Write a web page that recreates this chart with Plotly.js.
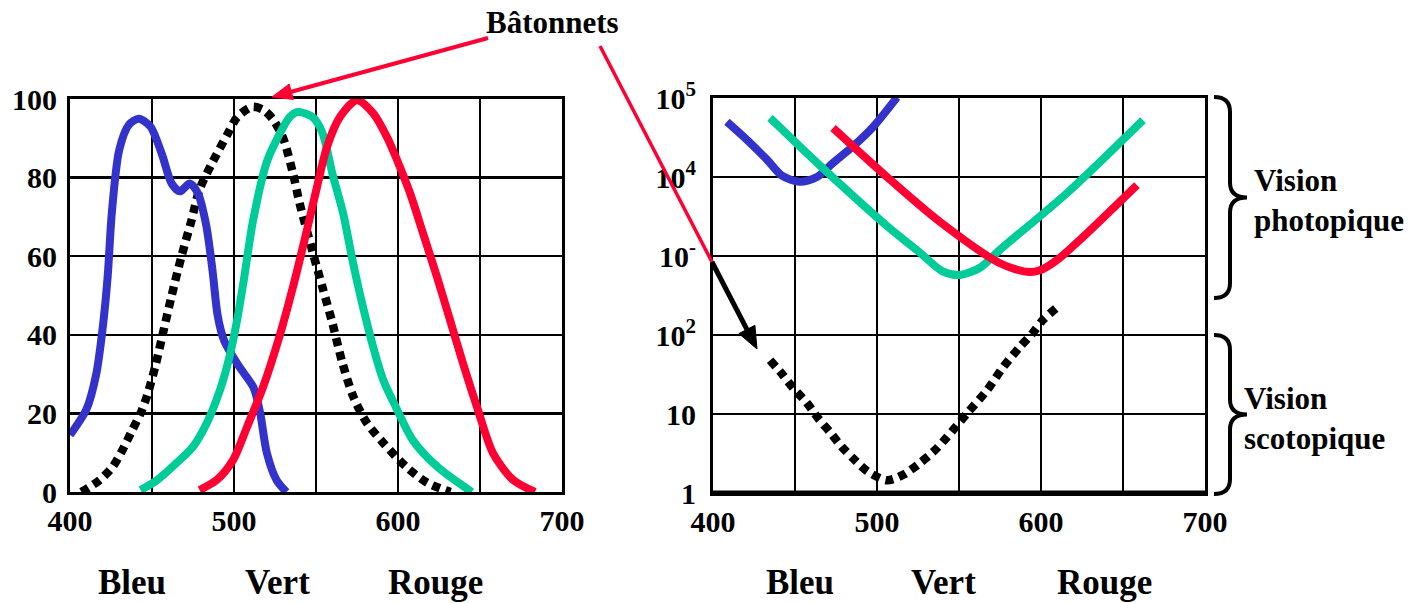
<!DOCTYPE html>
<html><head><meta charset="utf-8">
<script src="https://cdn.plot.ly/plotly-3.0.1.min.js"></script>
<style>html,body{margin:0;padding:0;background:#fff}</style>
</head><body><div id="chart" style="width:1420px;height:603px"></div>
<script>
// ---------- DATA ----------
// Left panel: relative sensitivity (%) vs wavelength (nm)
const blueLeftX = [400,410,416,420,423,425.5,430,436,442,449,456,462,467,473,478,483,487,490,494,503,512,516,520,526,532];
const blueLeftY = [14.5,21,30,42,55,71,87,93.5,95,93,86,78.5,76.5,78.5,76,68,56,45,38.5,32,26.5,20,10,3,0];

const rodLeftX = [407,418,426,432,438,443,447,452,457,462,468,474,479,487,496,502,511,518,524,530,536,540,548,554,560,566,573,581,591,605,618,632];
const rodLeftY = [0,3,6.4,10.7,15.8,20,24.5,32,41,50,60,69,77,84,91,95.4,98,97.2,94.7,90,81,73.5,61,52,43,33,24,17.6,12.5,6.4,2.3,0];

const greenLeftX = [443,453,465,475,483.5,491.5,497.6,502,506,511.6,520,526,534,539,548,554,560,566.5,572.6,578.7,584.8,591,599.4,609,624,645];
const greenLeftY = [0.5,3,7.4,11.5,17.6,26,35,44,54,69,84,89.6,95.4,96.7,95.4,91.3,81,71,58.3,47,37,28.5,21,13.2,6.4,0];

const redLeftX = [479,489.6,499.4,507.9,517.7,528,536,544.5,550.6,556.7,564.6,575,584.8,593.3,599.4,607.3,615.2,623.8,631.7,639.6,648.2,657.9,670.1,683.5];
const redLeftY = [0.5,3.1,8.1,16.5,26.7,40,52.2,66.7,77.6,87.8,95.4,99.7,96.4,90.3,84.5,76.1,65.9,54.7,43.8,32.8,21.6,9.9,3.1,0];

// Right panel: threshold (log scale) vs wavelength (nm)
const blueRightX = [408.5,420.7,432.9,442,453,463.4,473.2,485.4,497.6,512.2];
const blueRightY = [50000,29500,16600,10400,8700,10000,15100,24500,43000,102000];

const greenRightX = [434.8,465.2,506.1,526.2,540,550.6,562.8,575,616,662.2];
const greenRightY = [56000,14000,2400,1100,640,575,710,1200,6300,52500];

const redRightX = [473.2,506.1,538.4,575,591.5,599.4,609.8,625.6,658.5];
const redRightY = [41700,10000,2700,810,630,660,890,1740,7900];

const rodRightX = [434.8,442.7,448.8,457.3,464,471.3,478.7,486.6,494.5,506.1,515.9,526.2,535.4,542.7,554.9,567.1,576.8,587.2,595.1,601.2,609.8];
const rodRightY = [48,31,21.4,13.8,8.9,5.9,3.8,2.6,1.86,1.45,1.7,2.4,3.5,5.1,10.2,20,39,71,107,155,224];

// Tick labels
const xTickVals = [400,500,600,700];
const xTickText = ['400','500','600','700'];
const xMinorVals = [450,550,650];
const yLeftTickVals = [0,20,40,60,80,100];
const yLeftTickText = ['0','20','40','60','80','100'];
const yRightTickVals = [1,10,100,1000,10000,100000];
const yRightTickText = ['1','10','10<sup>2</sup>','10<sup>-</sup>','10<sup>4</sup>','10<sup>5</sup>'];
const colorLabels = ['Bleu','Vert','Rouge'];

// ---------- STYLE ----------
const W = 1420, H = 603;
const BLUE = '#3333CC', GREEN = '#00CC99', RED = '#FF0033';
const FONT = 'Liberation Serif';
const px = v => v / W;
const py = v => 1 - v / H;
const bold = arr => arr.map(t => '<b>' + t + '</b>');

function tr(x, y, color, xa, ya, dotted) {
  return {
    x: x, y: y, xaxis: xa, yaxis: ya, type: 'scatter', mode: 'lines',
    line: dotted ? {color: '#000', width: 8.5, dash: '8px,6px', shape: 'spline', smoothing: 0.8}
                 : {color: color, width: 8, shape: 'spline', smoothing: 0.8},
    hoverinfo: 'skip'
  };
}

const data = [
  tr(rodLeftX, rodLeftY, '#000', 'x', 'y', true),
  tr(blueLeftX, blueLeftY, BLUE, 'x', 'y'),
  tr(greenLeftX, greenLeftY, GREEN, 'x', 'y'),
  tr(redLeftX, redLeftY, RED, 'x', 'y'),
  tr(rodRightX, rodRightY, '#000', 'x2', 'y2', true),
  tr(blueRightX, blueRightY, BLUE, 'x2', 'y2'),
  tr(greenRightX, greenRightY, GREEN, 'x2', 'y2'),
  tr(redRightX, redRightY, RED, 'x2', 'y2')
];

function ax(extra) {
  return Object.assign({
    showline: true, mirror: true, linecolor: '#000', linewidth: 3,
    showgrid: true, gridcolor: '#000', gridwidth: 2.5,
    zeroline: false, ticks: '', fixedrange: true,
    tickfont: {family: FONT, size: 30, color: '#000'}
  }, extra);
}

const layout = {
  width: W, height: H,
  margin: {l: 0, r: 0, t: 0, b: 0},
  paper_bgcolor: '#fff', plot_bgcolor: '#fff',
  font: {family: FONT, color: '#000'},
  showlegend: false,
  xaxis: ax({domain: [px(70), px(562)], range: [400, 700], anchor: 'y',
    tickmode: 'array', tickvals: xTickVals, ticktext: bold(xTickText), ticklabelstandoff: 0,
    minor: {tickmode: 'array', tickvals: xMinorVals, showgrid: true, gridcolor: '#000', gridwidth: 2.5, ticks: ''}}),
  yaxis: ax({domain: [py(492), py(99)], range: [0, 100], anchor: 'x',
    tickmode: 'array', tickvals: yLeftTickVals, ticktext: bold(yLeftTickText), ticklabelstandoff: 4}),
  xaxis2: ax({domain: [px(713), px(1205)], range: [400, 700], anchor: 'y2',
    tickmode: 'array', tickvals: xTickVals, ticktext: bold(xTickText), ticklabelstandoff: 0,
    minor: {tickmode: 'array', tickvals: xMinorVals, showgrid: true, gridcolor: '#000', gridwidth: 2.5, ticks: ''}}),
  yaxis2: ax({domain: [py(493), py(98)], type: 'log', range: [0, 5], anchor: 'x2',
    tickmode: 'array', tickvals: yRightTickVals, ticktext: bold(yRightTickText), ticklabelstandoff: 8}),
  annotations: [],
  shapes: []
};

const labelFont = {family: FONT, size: 35, color: '#000'};
const leftLabelX = [132, 277, 435];
const rightLabelX = [800, 943, 1104];
colorLabels.forEach((t, i) => {
  layout.annotations.push({text: '<b>' + t + '</b>', x: px(leftLabelX[i]), y: py(582), xref: 'paper', yref: 'paper',
    xanchor: 'center', yanchor: 'middle', showarrow: false, font: labelFont});
  layout.annotations.push({text: '<b>' + t + '</b>', x: px(rightLabelX[i]), y: py(582), xref: 'paper', yref: 'paper',
    xanchor: 'center', yanchor: 'middle', showarrow: false, font: labelFont});
});

const textFont = {family: FONT, size: 31, color: '#000'};
layout.annotations.push({text: '<b>Bâtonnets</b>', x: px(552), y: py(22), xref: 'paper', yref: 'paper',
  xanchor: 'center', yanchor: 'middle', showarrow: false, font: textFont});
layout.annotations.push({text: '<b>Vision</b><br><b>photopique</b>', x: px(1252), y: py(200), xref: 'paper', yref: 'paper',
  xanchor: 'left', yanchor: 'middle', align: 'left', showarrow: false, font: textFont});
layout.annotations.push({text: '<b>Vision</b><br><b>scotopique</b>', x: px(1242), y: py(419), xref: 'paper', yref: 'paper',
  xanchor: 'left', yanchor: 'middle', align: 'left', showarrow: false, font: textFont});

// Arrows drawn as shapes (line + filled head), pixel geometry -> paper coords
function arrow(tail, tip, color, width, headLen, headHalf) {
  const dx = tail[0] - tip[0], dy = tail[1] - tip[1];
  const L = Math.hypot(dx, dy), ux = dx / L, uy = dy / L;
  const bx = tip[0] + ux * headLen, by = tip[1] + uy * headLen;
  const nx = -uy, ny = ux;
  const P = (x, y) => px(x) + ',' + py(y);
  layout.shapes.push({type: 'line', xref: 'paper', yref: 'paper',
    x0: px(tail[0]), y0: py(tail[1]), x1: px(bx), y1: py(by), line: {color: color, width: width}});
  layout.shapes.push({type: 'path', xref: 'paper', yref: 'paper',
    path: 'M' + P(tip[0], tip[1]) + ' L' + P(bx + nx * headHalf, by + ny * headHalf) +
      ' L' + P(bx - nx * headHalf, by - ny * headHalf) + ' Z',
    fillcolor: color, line: {color: color, width: 1}});
}
arrow([488, 38], [272, 97], RED, 4, 20, 8);
layout.shapes.push({type: 'line', xref: 'paper', yref: 'paper',
  x0: px(600), y0: py(46), x1: px(712), y1: py(262), line: {color: RED, width: 3.5}});
arrow([712, 262], [757, 349], '#000', 5, 22, 9);

// Thick bottom border of right panel
layout.shapes.push({type: 'line', xref: 'paper', yref: 'paper',
  x0: px(712), y0: py(493), x1: px(1206), y1: py(493), line: {color: '#000', width: 5}});

// Curly braces
function brace(top, bottom, xl, xm, xt) {
  const mid = (top + bottom) / 2, r = 15;
  const P = (x, y) => px(x) + ',' + py(y);
  return 'M' + P(xl, top) + ' Q' + P(xm, top) + ' ' + P(xm, top + r) +
    ' L' + P(xm, mid - r) + ' Q' + P(xm, mid) + ' ' + P(xt, mid) +
    ' Q' + P(xm, mid) + ' ' + P(xm, mid + r) +
    ' L' + P(xm, bottom - r) + ' Q' + P(xm, bottom) + ' ' + P(xl, bottom);
}
layout.shapes.push({type: 'path', xref: 'paper', yref: 'paper', path: brace(97, 298, 1214, 1230, 1247),
  line: {color: '#000', width: 4}});
layout.shapes.push({type: 'path', xref: 'paper', yref: 'paper', path: brace(335, 494, 1214, 1230, 1247),
  line: {color: '#000', width: 4}});

Plotly.newPlot('chart', data, layout, {staticPlot: true, displayModeBar: false});
</script></body></html>
